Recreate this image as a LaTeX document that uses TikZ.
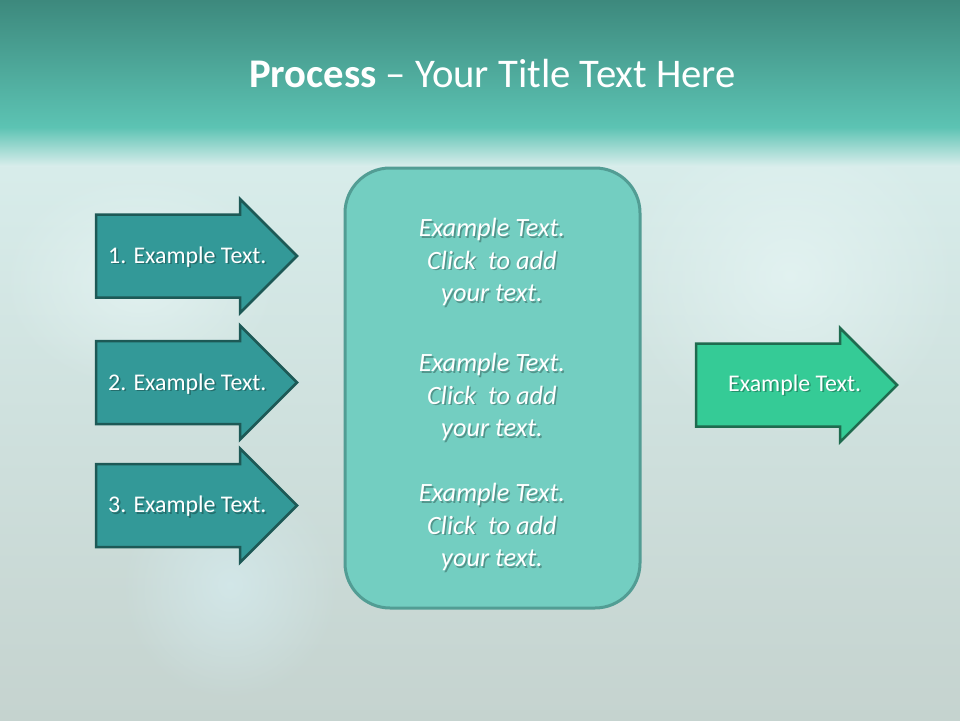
\documentclass[tikz,border=0pt]{standalone}
\usepackage{fontspec}
\setmainfont{Carlito}
\usetikzlibrary{fadings}
\definecolor{bandtop}{HTML}{3D897D}
\definecolor{bandbot}{HTML}{5CC3B3}
\definecolor{bandfade}{HTML}{A9DAD3}
\definecolor{bgtop}{HTML}{D8EDEB}
\definecolor{bgbot}{HTML}{C5D3CF}
\definecolor{blobcol}{HTML}{E6F5F4}
\definecolor{blobblue}{HTML}{D5EBEE}
\definecolor{arrowfill}{HTML}{339998}
\definecolor{arrowline}{HTML}{1D5956}
\definecolor{greenfill}{HTML}{35CB96}
\definecolor{greenline}{HTML}{1F6B4F}
\definecolor{boxfill}{HTML}{73CEC1}
\definecolor{boxline}{HTML}{529D94}
\tikzfading[name=softblob, inner color=transparent!25, outer color=transparent!100]
\newcommand\shadowtext[4]{%
  \node[#1, text=black, text opacity=0.28] at ([shift={(1.6,1.6)}]#3) {#4};
  \node[#1] (#2) at (#3) {#4};}
\begin{document}
\begin{tikzpicture}[x=1pt,y=-1pt,
  tealarrow/.style={fill=arrowfill, draw=arrowline, line width=2.5pt, line join=miter},
  greenarrow/.style={fill=greenfill, draw=greenline, line width=2.5pt, line join=miter},
  midbox/.style={fill=boxfill, draw=boxline, line width=3pt, rounded corners=45pt,
    minimum width=295pt, minimum height=440pt, inner sep=0pt},
  arrowtext/.style={anchor=base west, text=white, inner sep=0pt, font=\fontsize{23.9}{28}\selectfont},
  boxtext/.style={anchor=center, text=white, inner sep=0pt, align=center,
    font=\fontsize{26.4}{32.5}\selectfont\itshape},
  titletext/.style={anchor=base, text=white, inner sep=0pt, font=\fontsize{40.7}{48}\selectfont}]
\useasboundingbox (0,0) rectangle (960,720);
% background
\shade[top color=bgtop, bottom color=bgbot] (0,150) rectangle (960,720);
\fill[blobcol, path fading=softblob] (620,110) rectangle (960,440);
\fill[blobblue, path fading=softblob] (120,470) rectangle (340,700);
\fill[blobcol, path fading=softblob] (0,170) rectangle (280,390);
\shade[top color=bandtop, bottom color=bandbot] (0,0) rectangle (960,127);
\shade[top color=bandbot, middle color=bandfade, bottom color=bgtop] (0,127) rectangle (960,166);
% title
\node[titletext] (title) at (492.5,87.5) {\textbf{Process} – Your Title Text Here};
% left arrows
\draw[tealarrow] (96,214.5) -- (240,214.5) -- (240,199) -- (297,256) -- (240,313) -- (240,297.5) -- (96,297.5) -- cycle;
\draw[tealarrow] (96,341) -- (240,341) -- (240,325.5) -- (297,382.5) -- (240,439.5) -- (240,424) -- (96,424) -- cycle;
\draw[tealarrow] (96,464) -- (240,464) -- (240,448.5) -- (297,505.5) -- (240,562.5) -- (240,547) -- (96,547) -- cycle;
\shadowtext{arrowtext}{t1}{108,263.3}{1. Example Text.}
\shadowtext{arrowtext}{t2}{108,390}{2. Example Text.}
\shadowtext{arrowtext}{t3}{108,512.5}{3. Example Text.}
% middle box
\node[midbox] (mid) at (492.5,388) {};
\shadowtext{boxtext}{m1}{492,262}{Example Text.\\Click~ to add\\your text.}
\shadowtext{boxtext}{m2}{492,397}{Example Text.\\Click~ to add\\your text.}
\shadowtext{boxtext}{m3}{492,527}{Example Text.\\Click~ to add\\your text.}
% right arrow
\draw[greenarrow] (696,343.5) -- (840,343.5) -- (840,328) -- (897,385) -- (840,442) -- (840,426.5) -- (696,426.5) -- cycle;
\shadowtext{arrowtext}{r1}{728,391}{Example Text.}
\end{tikzpicture}
\end{document}
